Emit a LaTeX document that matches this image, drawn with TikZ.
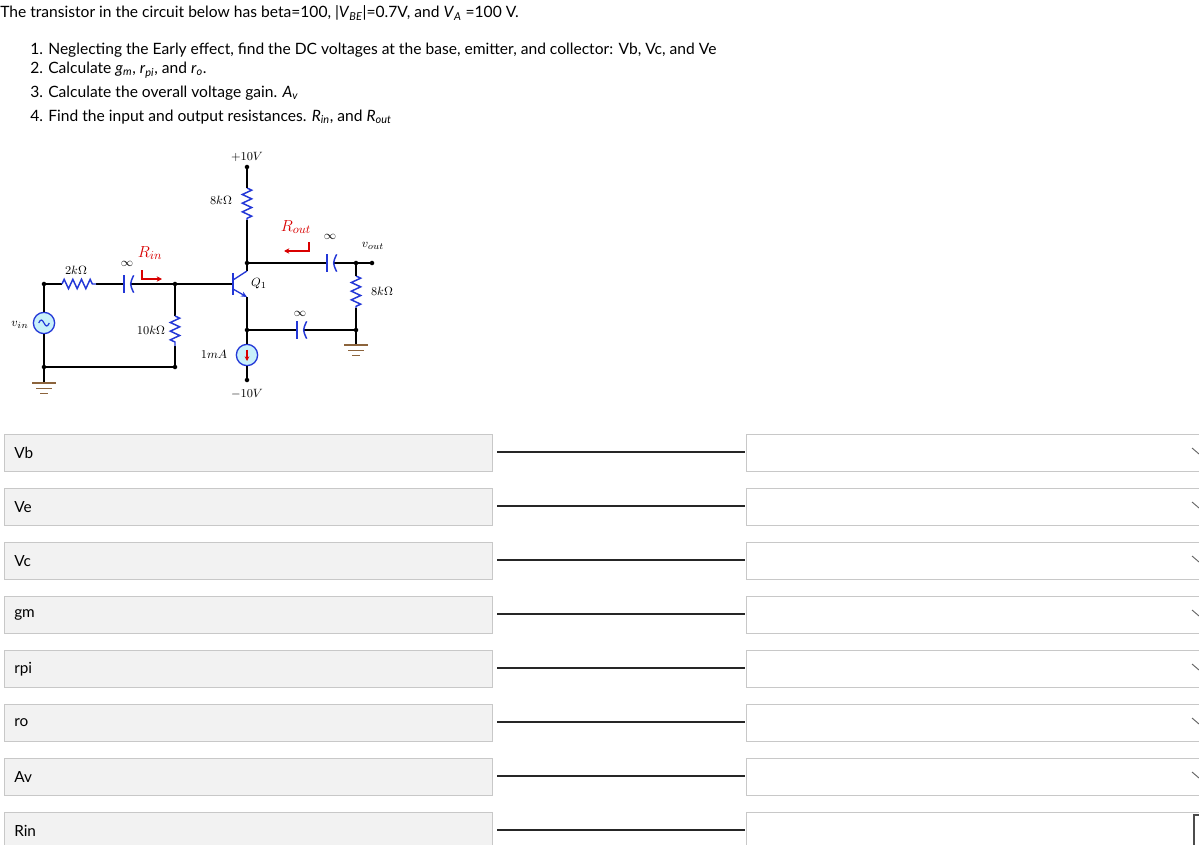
\documentclass[tikz,border=0pt]{standalone}
\usepackage{fontspec}
\setmainfont{Lato}
\usetikzlibrary{decorations.pathmorphing,arrows.meta}
\definecolor{cb}{RGB}{35,55,215}
\definecolor{cfill}{RGB}{200,240,250}
\definecolor{gnd}{RGB}{140,100,60}
\definecolor{boxg}{RGB}{242,242,242}
\definecolor{bord}{RGB}{200,200,200}
\newcommand{\iv}[2]{\textit{#1}\textsubscript{\textit{#2}}}
\begin{document}
\begin{tikzpicture}[x=0.75pt,y=-0.75pt,
  wire/.style={line width=1pt,black},
  res/.style={cb,line width=1.1pt,decorate,decoration={zigzag,segment length=6.5pt,amplitude=3.5pt}},
  dot/.style={circle,fill=black,inner sep=1.2pt},
  src/.style={circle,draw=cb,fill=cfill,line width=1pt,minimum size=16pt,inner sep=0pt},
  cl/.style={font=\fontsize{9.5}{10}\selectfont\rmfamily},
  red/.style={color=red!85!black},
  lab/.style={draw=bord,fill=boxg,minimum width=366pt,minimum height=27.5pt,anchor=north west,inner sep=0pt},
  inp/.style={draw=bord,fill=white,minimum width=340pt,minimum height=27.5pt,anchor=north west,inner sep=0pt},
  txt/.style={font=\fontsize{11.7}{13}\selectfont,anchor=west,inner sep=0pt}]
\useasboundingbox (0,0) rectangle (1199,845);
\fill[white] (0,0) rectangle (1199,845);
% text
\node[txt] (t0) at (0,13) {The transistor in the circuit below has beta=100, |\iv{V}{BE}|=0.7V, and \iv{V}{A} =100 V.};
\node[txt] (t1) at (30,50) {1. Neglecting the Early effect, find the DC voltages at the base, emitter, and collector: Vb, Vc, and Ve};
\node[txt] (t2) at (30,70) {2. Calculate \iv{g}{m}, \iv{r}{pi}, and \iv{r}{o}.};
\node[txt] (t3) at (30,93) {3. Calculate the overall voltage gain. \iv{A}{v}};
\node[txt] (t4) at (30,117) {4. Find the input and output resistances. \iv{R}{in}, and \iv{R}{out}};
% coordinates
\coordinate (a1) at (44,284); \coordinate (a2) at (44,367); \coordinate (g1) at (44,383);
\coordinate (r1a) at (62,284); \coordinate (r1b) at (96,284);
\coordinate (c1a) at (124,284); \coordinate (c1b) at (131,284);
\coordinate (bn) at (175,284); \coordinate (bb) at (175,367);
\coordinate (r2a) at (175,316); \coordinate (r2b) at (175,346);
\coordinate (base) at (233,284);
\coordinate (cn) at (247,263); \coordinate (ce) at (247,271);
\coordinate (ee) at (247,297); \coordinate (en) at (247,330);
\coordinate (vcc) at (247,167); \coordinate (r3a) at (247,188); \coordinate (r3b) at (247,220);
\coordinate (on) at (356,263); \coordinate (vo) at (372,263);
\coordinate (c2a) at (327,263); \coordinate (c2b) at (334,263);
\coordinate (r4a) at (356,276); \coordinate (r4b) at (356,308);
\coordinate (gn) at (356,330); \coordinate (g2) at (356,345);
\coordinate (c3a) at (297,330); \coordinate (c3b) at (304,330);
\coordinate (vee) at (247,380);
% source
\node[src] (vin) at (44,323) {};
\draw[cb,line width=0.9pt] ([xshift=-4pt]vin.center) .. controls +(1.5pt,3pt) and +(-1.5pt,3pt) .. (vin.center) .. controls +(1.5pt,-3pt) and +(-1.5pt,-3pt) .. ([xshift=4pt]vin.center);
\draw[wire] (vin.north) -- (a1) -- (r1a); \draw[wire] (r1b) -- (c1a);
\draw[wire] (c1b) -- (bn) -- (base);
\draw[wire] (bn) -- (r2a); \draw[wire] (r2b) -- (bb) -- (a2) -- (vin.south);
\draw[wire] (a2) -- (g1);
\draw[res] (r1a) -- (r1b);
\draw[res] (r2a) -- (r2b);
\draw[res] (r3a) -- (r3b);
\draw[res] (r4a) -- (r4b);
\draw[wire] (vcc) -- (r3a); \draw[wire] (r3b) -- (cn) -- (ce);
\draw[wire] (cn) -- (c2a); \draw[wire] (c2b) -- (on) -- (vo);
\draw[wire] (on) -- (r4a); \draw[wire] (r4b) -- (gn) -- (g2);
\draw[wire] (ee) -- (en) -- (c3a); \draw[wire] (c3b) -- (gn);
\node[src] (cs) at (247,355) {};
\draw[-{Stealth[length=3.5pt,width=3.5pt]},red,line width=0.8pt] ([yshift=4pt]cs.center) -- ([yshift=-4.5pt]cs.center);
\draw[wire] (en) -- (cs.north); \draw[wire] (cs.south) -- (vee);
% caps
\foreach \a/\b in {c1a/c1b,c2a/c2b,c3a/c3b}{
 \draw[cb,line width=1.1pt] ([yshift=6.5pt]\a) -- ([yshift=-6.5pt]\a);
 \draw[cb,line width=1.1pt] ([yshift=6.5pt,xshift=2pt]\b) .. controls ([xshift=-1pt]\b) .. ([yshift=-6.5pt,xshift=2pt]\b);}
% transistor
\draw[cb,line width=1.6pt] (233,273) -- (233,295);
\draw[cb,line width=1pt] (233,280) -- (ce);
\draw[cb,line width=1pt,-{Stealth[length=4.5pt,width=4pt]}] (233,289) -- (ee);
% grounds
\foreach \g in {g1,g2}{
 \draw[gnd,line width=1pt] ([xshift=-9pt]\g) -- ([xshift=9pt]\g);
 \draw[gnd,line width=1pt] ([xshift=-6pt,yshift=-4pt]\g) -- ([xshift=6pt,yshift=-4pt]\g);
 \draw[gnd,line width=1pt] ([xshift=-3pt,yshift=-8pt]\g) -- ([xshift=3pt,yshift=-8pt]\g);}
% dots
\foreach \p in {a1,a2,bn,bb,cn,en,on,vo,gn,vcc,vee} \node[dot] at (\p) {};
% labels
\node[cl] (l1) at (247,157) {$+10V$};
\node[cl] (l2) at (247,394) {$-10V$};
\node[cl] (l3) at (221,200) {$8k\Omega$};
\node[cl] (l4) at (382,291) {$8k\Omega$};
\node[cl] (l5) at (76,270) {$2k\Omega$};
\node[cl] (l6) at (151,330) {$10k\Omega$};
\node[cl] (l7) at (214,354) {$1mA$};
\node[cl] (l8) at (259,284) {$Q_1$};
\node[cl] (l9) at (20,325) {$v_{in}$};
\node[cl] (l10) at (373,246) {$v_{out}$};
\node[cl] (l11) at (127,264) {$\infty$};
\node[cl] (l12) at (330,237) {$\infty$};
\node[cl] (l13) at (300,314) {$\infty$};
\node[cl,red,font=\fontsize{12.5}{13}\selectfont\rmfamily] (l14) at (150,253) {$R_{in}$};
\node[cl,red,font=\fontsize{12.5}{13}\selectfont\rmfamily] (l15) at (296,227) {$R_{out}$};
\draw[red,line width=0.9pt,-{Stealth[length=4pt,width=4pt]}] (142,270) -- (142,279) -- (162,279);
\draw[red,line width=0.9pt,-{Stealth[length=4pt,width=4pt]}] (309,242) -- (309,251) -- (284,251);
% answer rows
\foreach \n/\t [count=\i from 0] in {v1/Vb,v2/Ve,v3/Vc,v4/gm,v5/rpi,v6/ro,v7/Av,v8/Rin}{
 \node[lab] (b\n) at (4,434+54*\i) {};
 \node[txt,font=\fontsize{11.5}{13}\selectfont] (x\n) at (14,453+54*\i) {\t};
 \draw[line width=1.1pt,black!85] (497,452+54*\i) -- (745,452+54*\i);
 \node[inp] (i\n) at (746,434+54*\i) {};
}
\foreach \i in {0,...,6} \draw[black!60,line width=0.7pt] (1192,448+54*\i) -- (1199,454+54*\i);
\draw[black!70,line width=0.8pt] (1199,815) -- (1194,815) -- (1194,845);
\end{tikzpicture}
\end{document}
